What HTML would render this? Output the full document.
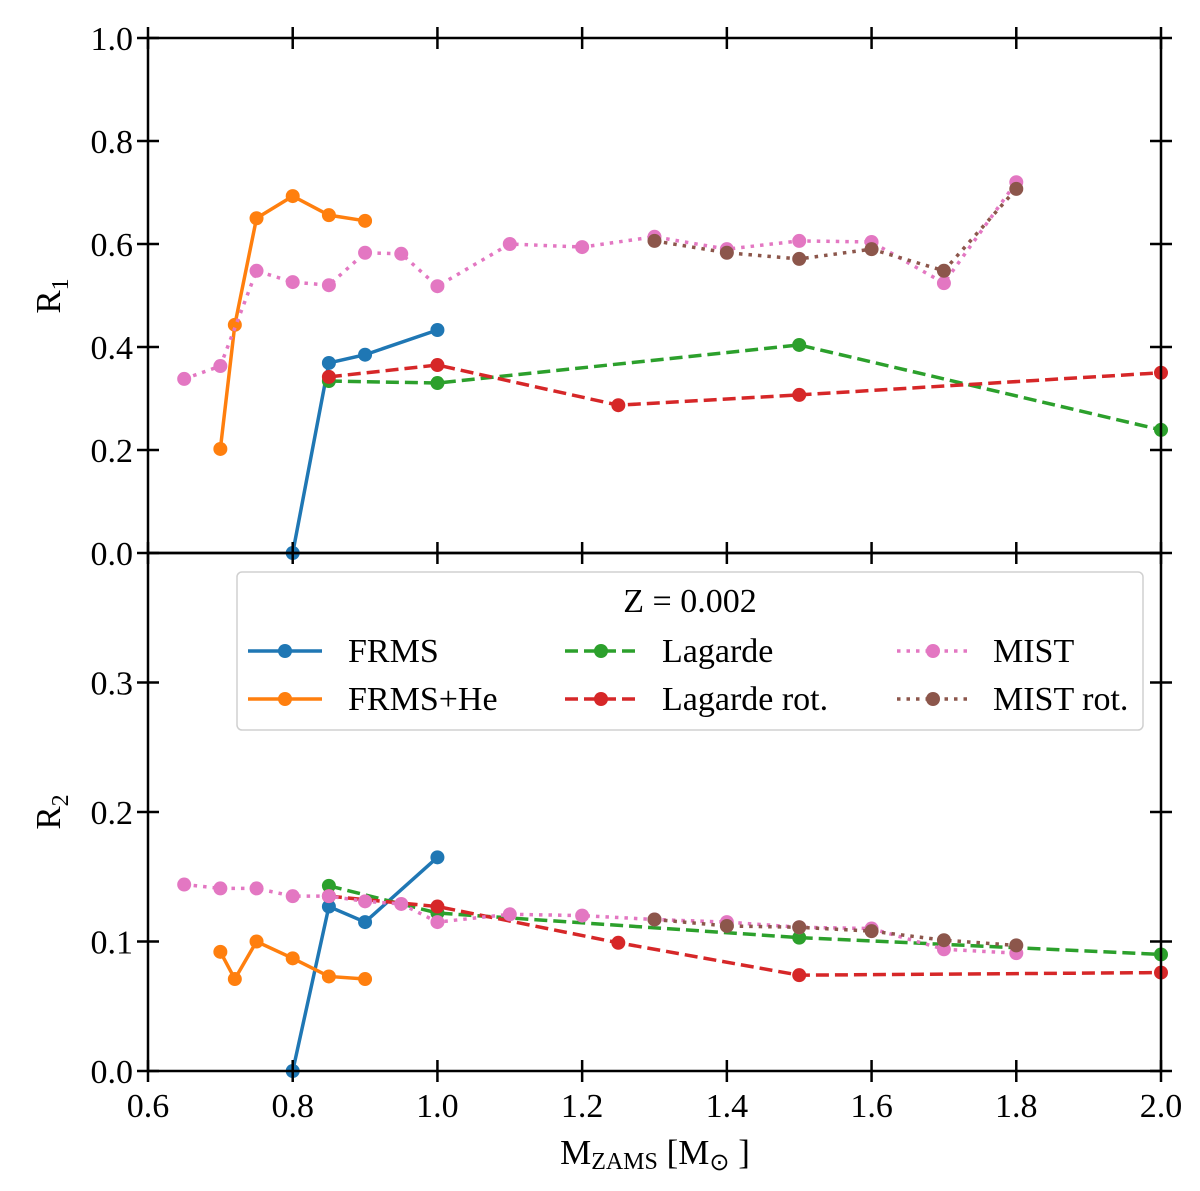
<!DOCTYPE html>
<html><head><meta charset="utf-8"><style>
html,body{margin:0;padding:0;background:#fff;}
svg text{font-family:"Liberation Serif",serif;fill:#000;}
</style></head><body>
<svg id="chart" width="1200" height="1186" xmlns="http://www.w3.org/2000/svg"></svg>
<script>
const xTicks=[0.6,0.8,1.0,1.2,1.4,1.6,1.8,2.0];
const xTickLabels=["0.6","0.8","1.0","1.2","1.4","1.6","1.8","2.0"];
const topTicks=[0,0.2,0.4,0.6,0.8,1.0];
const topTickLabels=["0.0","0.2","0.4","0.6","0.8","1.0"];
const botTicks=[0,0.1,0.2,0.3];
const botTickLabels=["0.0","0.1","0.2","0.3"];

const frmsX=[0.8,0.85,0.9,1.0];
const frmsR1=[0.0,0.369,0.385,0.433];
const frmsR2=[0.0,0.127,0.115,0.165];
const frmsHeX=[0.7,0.72,0.75,0.8,0.85,0.9];
const frmsHeR1=[0.202,0.443,0.650,0.693,0.656,0.645];
const frmsHeR2=[0.092,0.071,0.100,0.087,0.073,0.071];
const lagX=[0.85,1.0,1.5,2.0];
const lagR1=[0.334,0.330,0.404,0.239];
const lagR2=[0.143,0.122,0.103,0.090];
const lagRotX=[0.85,1.0,1.25,1.5,2.0];
const lagRotR1=[0.342,0.365,0.287,0.307,0.350];
const lagRotR2=[0.135,0.127,0.099,0.074,0.076];
const mistX=[0.65,0.7,0.75,0.8,0.85,0.9,0.95,1.0,1.1,1.2,1.3,1.4,1.5,1.6,1.7,1.8];
const mistR1=[0.338,0.363,0.548,0.526,0.520,0.583,0.581,0.518,0.600,0.594,0.614,0.590,0.606,0.604,0.524,0.720];
const mistR2=[0.144,0.141,0.141,0.135,0.135,0.131,0.129,0.115,0.121,0.120,0.117,0.115,0.111,0.110,0.094,0.091];
const mistRotX=[1.3,1.4,1.5,1.6,1.7,1.8];
const mistRotR1=[0.606,0.583,0.571,0.590,0.548,0.707];
const mistRotR2=[0.117,0.112,0.111,0.108,0.101,0.097];

const NS="http://www.w3.org/2000/svg";
const svg=document.getElementById('chart');
const L=148,R=1161,T1=38,B1=553,B2=1071;
function sx(v){return L+(v-0.6)/1.4*(R-L);}
function sy1(v){return B1-v*(B1-T1);}
function sy2(v){return B2-v/0.4*(B2-B1);}
function mk(tag,attrs,parent){const e=document.createElementNS(NS,tag);for(const k in attrs)e.setAttribute(k,attrs[k]);(parent||svg).appendChild(e);return e;}

const series=[
 {name:'frms',x:frmsX,y1:frmsR1,y2:frmsR2,c:'#1f77b4',d:''},
 {name:'frms-he',x:frmsHeX,y1:frmsHeR1,y2:frmsHeR2,c:'#ff7f0e',d:''},
 {name:'lagarde',x:lagX,y1:lagR1,y2:lagR2,c:'#2ca02c',d:'13,6'},
 {name:'lagarde-rot',x:lagRotX,y1:lagRotR1,y2:lagRotR2,c:'#d62728',d:'13,6'},
 {name:'mist',x:mistX,y1:mistR1,y2:mistR2,c:'#e377c2',d:'3.5,6'},
 {name:'mist-rot',x:mistRotX,y1:mistRotR1,y2:mistRotR2,c:'#8c564b',d:'3.5,6'}
];
function drawSeries(panel,sy,key){
 const g=mk('g',{});
 
 
 series.forEach(s=>{
  const pts=s.x.map((x,i)=>sx(x)+','+sy(s[key][i])).join(' ');
  const pl=mk('polyline',{points:pts,fill:'none',stroke:s.c,'stroke-width':3.5,'stroke-dasharray':s.d||'none'},g);
  
  
  s.x.forEach((x,i)=>{
   const c=mk('circle',{cx:sx(x),cy:sy(s[key][i]),r:7,fill:s.c},g);
   
   
  });
 });
}
drawSeries('top-panel',sy1,'y1');
drawSeries('bottom-panel',sy2,'y2');

[[T1,B1,'top-panel-frame'],[B1,B2,'bottom-panel-frame']].forEach(([t,b,n])=>{
 const r=mk('rect',{x:L,y:t,width:R-L,height:b-t,fill:'none',stroke:'#000','stroke-width':2.5});
 
 
});
function tick(x1,y1,x2,y2){mk('line',{x1,y1,x2,y2,stroke:'#000','stroke-width':2.5});}
xTicks.forEach((v,i)=>{
 const x=sx(v);
 [T1,B1,B2].forEach(y=>tick(x,y-11,x,y+11));
 const t=mk('text',{x:x,y:B2+46,'font-size':34,'text-anchor':'middle'});
 t.textContent=xTickLabels[i];
 
 
});
topTicks.forEach((v,i)=>{
 const y=sy1(v);
 tick(L-11,y,L+11,y);tick(R-11,y,R+11,y);
 const t=mk('text',{x:L-15,y:y+12,'font-size':34,'text-anchor':'end'});
 t.textContent=topTickLabels[i];
 
 
});
botTicks.forEach((v,i)=>{
 const y=sy2(v);
 tick(L-11,y,L+11,y);tick(R-11,y,R+11,y);
 const t=mk('text',{x:L-15,y:y+12,'font-size':34,'text-anchor':'end'});
 t.textContent=botTickLabels[i];
 
 
});
</script>
<svg style="position:absolute;left:0;top:0" width="1200" height="1186" xmlns="http://www.w3.org/2000/svg">
 <text transform="translate(60,296) rotate(-90)" font-size="35" text-anchor="middle">R<tspan font-size="24" dy="8">1</tspan></text>
 <text transform="translate(60,812) rotate(-90)" font-size="35" text-anchor="middle">R<tspan font-size="24" dy="8">2</tspan></text>
 <text x="655" y="1164" font-size="35" text-anchor="middle">M<tspan font-size="24" dy="5">ZAMS</tspan><tspan dy="-5"> [M</tspan><tspan font-size="24" dy="6">⊙</tspan><tspan dy="-6"> ]</tspan></text>
 <g>
  <rect x="237" y="572" width="906" height="158" rx="5" fill="#fff" stroke="#d0d0d0" stroke-width="1.5"/>
  <text x="690" y="612" font-size="34" text-anchor="middle">Z = 0.002</text>
  <g><line x1="248" y1="651" x2="322" y2="651" stroke="#1f77b4" stroke-width="3.5"/><circle cx="285" cy="651" r="7" fill="#1f77b4"/><text x="348" y="662" font-size="34">FRMS</text></g>
  <g><line x1="248" y1="699" x2="322" y2="699" stroke="#ff7f0e" stroke-width="3.5"/><circle cx="285" cy="699" r="7" fill="#ff7f0e"/><text x="348" y="710" font-size="34">FRMS+He</text></g>
  <g><line x1="565" y1="651" x2="638" y2="651" stroke="#2ca02c" stroke-width="3.5" stroke-dasharray="13,6"/><circle cx="601" cy="651" r="7" fill="#2ca02c"/><text x="662" y="662" font-size="34">Lagarde</text></g>
  <g><line x1="565" y1="699" x2="638" y2="699" stroke="#d62728" stroke-width="3.5" stroke-dasharray="13,6"/><circle cx="601" cy="699" r="7" fill="#d62728"/><text x="662" y="710" font-size="34">Lagarde rot.</text></g>
  <g><line x1="897" y1="651" x2="970" y2="651" stroke="#e377c2" stroke-width="3.5" stroke-dasharray="3.5,6"/><circle cx="933" cy="651" r="7" fill="#e377c2"/><text x="993" y="662" font-size="34">MIST</text></g>
  <g><line x1="897" y1="699" x2="970" y2="699" stroke="#8c564b" stroke-width="3.5" stroke-dasharray="3.5,6"/><circle cx="933" cy="699" r="7" fill="#8c564b"/><text x="993" y="710" font-size="34">MIST rot.</text></g>
 </g>
</svg>
</body></html>
